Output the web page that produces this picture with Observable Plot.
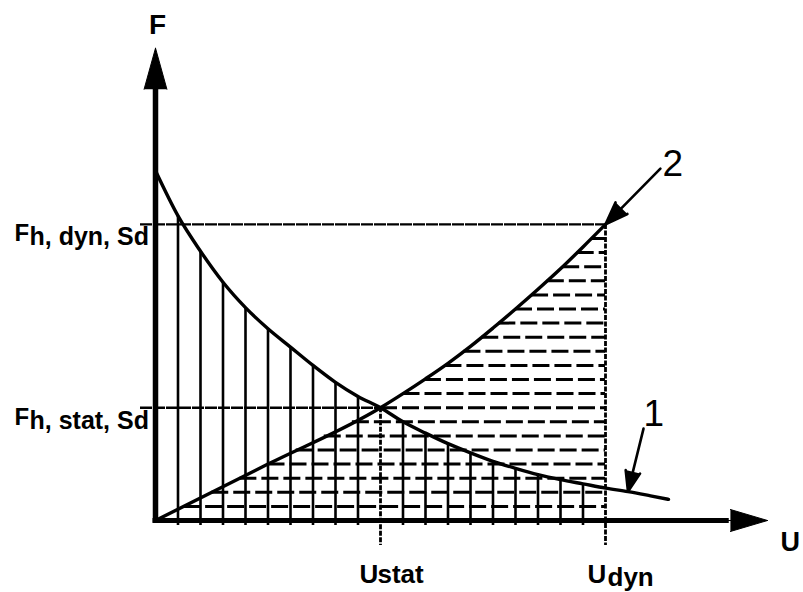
<!DOCTYPE html>
<html>
<head>
<meta charset="utf-8">
<script src="https://cdn.jsdelivr.net/npm/d3@7"></script>
<script src="https://cdn.jsdelivr.net/npm/@observablehq/plot@0.6"></script>
<style>
  html, body { margin: 0; padding: 0; background: #ffffff; }
  #chart svg { display: block; }
</style>
</head>
<body>
<div id="chart"></div>
<script>
// Displacement U and force F, both counted in hatch steps
const U_STAT = 10;
const U_DYN = 20;
const F_STAT = 8;
const F_DYN = 21;

// Curve 1: falling characteristic
const curve1U = [0, 1, 2, 3, 4, 5, 6, 7, 8, 9, 10, 11, 12, 13, 14, 15, 16, 17, 18, 19, 20, 21, 22, 22.8];
const curve1F = [24.8, 21.6, 19.1, 16.9, 15.1, 13.6, 12.3, 11.0, 9.8, 8.8, 8.0, 7.0, 6.2, 5.45, 4.8, 4.2, 3.7, 3.25, 2.9, 2.6, 2.3, 2.05, 1.75, 1.5];

// Curve 2: rising characteristic, straight up to the crossing point
const curve2U = [0, 5, 10, 11, 12, 13, 14, 15, 16, 17, 18, 19, 20];
const curve2F = [0, 4, 8, 9.0, 10.05, 11.15, 12.35, 13.65, 15.0, 16.4, 17.85, 19.4, 21.0];

// Hatch positions
const hatchU = [1, 2, 3, 4, 5, 6, 7, 8, 9, 11, 12, 13, 14, 15, 16, 17, 18, 19];
const hatchF = [1, 2, 3, 4, 5, 6, 7, 8, 9, 10, 11, 12, 13, 14, 15, 16, 17, 18, 19, 20];

// Axis extents (head base and tip)
const AXIS_F_BASE = 30.6, AXIS_F_TIP = 33.5;
const AXIS_U_BASE = 25.5, AXIS_U_TIP = 27.2;

// Labels
const forceLevels = [F_DYN, F_STAT];
const forceNames = ["h, dyn, Sd", "h, stat, Sd"];
const callouts = [
  {label: "2", u: 22.44, f: 24.96, tipU: U_DYN, tipF: F_DYN},
  {label: "1", u: 21.69, f: 6.52, tipU: curve1U[21], tipF: curve1F[21]}
];

const curve1 = curve1U.map((u, i) => ({u, f: curve1F[i]}));
const curve2 = curve2U.map((u, i) => ({u, f: curve2F[i]}));

// displacement at which a rising curve reaches force f
function uAtF(us, fs, f) {
  for (let i = 1; i < fs.length; i++) {
    if (f <= fs[i]) {
      const t = (f - fs[i - 1]) / (fs[i] - fs[i - 1]);
      return us[i - 1] + t * (us[i] - us[i - 1]);
    }
  }
  return us[us.length - 1];
}

const rows = hatchF.map(f => ({f, u0: uAtF(curve2U, curve2F, f)}));
const cols = hatchU.map(u => ({u, f: curve1F[curve1U.indexOf(u)]}));

const FONT = "'Liberation Sans', Arial, Helvetica, sans-serif";

const chart = Plot.plot({
  width: 803,
  height: 592,
  margin: 0,
  x: {domain: [0, 28], range: [155, 785], axis: null},
  y: {domain: [0, 36], range: [520, 12.4], axis: null},
  style: {background: "#ffffff", color: "#000000", fontFamily: FONT},
  marks: [
    // horizontal dashed hatch between curve 2 and U_dyn
    Plot.ruleY(rows, {
      y: "f", x1: "u0", x2: () => U_DYN,
      stroke: "#000", strokeWidth: 3, strokeDasharray: "17,5"
    }),
    // vertical hatch below curve 1
    Plot.ruleX(cols, {
      x: "u", y1: "f", y2: () => 0, insetBottom: -5,
      stroke: "#000", strokeWidth: 2.6
    }),
    // guide lines to the force labels
    Plot.ruleY([F_DYN], {
      y: d => d, x1: () => 0, x2: () => U_DYN, insetLeft: -15,
      stroke: "#000", strokeWidth: 2.4, strokeDasharray: "12,1"
    }),
    Plot.ruleY([F_STAT], {
      y: d => d, x1: () => 0, x2: () => U_STAT, insetLeft: -15,
      stroke: "#000", strokeWidth: 2.4, strokeDasharray: "12,1"
    }),
    // guide lines to the displacement labels
    Plot.ruleX([{u: U_STAT, f: F_STAT}, {u: U_DYN, f: F_DYN}], {
      x: "u", y1: "f", y2: () => 0, insetBottom: -25,
      stroke: "#000", strokeWidth: 2.8, strokeDasharray: "5,1.5"
    }),
    // characteristic curves
    Plot.line(curve1, {x: "u", y: "f", stroke: "#000", strokeWidth: 3.4, curve: "monotone-x"}),
    Plot.line(curve2, {x: "u", y: "f", stroke: "#000", strokeWidth: 3.4, curve: "monotone-x"}),
    // axes
    Plot.ruleX([0], {x: d => d, y1: () => AXIS_F_BASE, y2: () => 0, insetBottom: -2.5, stroke: "#000", strokeWidth: 5.5}),
    Plot.ruleY([0], {y: d => d, x1: () => 0, x2: () => AXIS_U_BASE, insetLeft: -2.5, stroke: "#000", strokeWidth: 5}),
    Plot.arrow([0], {
      x1: () => 0, y1: () => 0, x2: () => 0, y2: () => AXIS_F_TIP,
      stroke: "#000", fill: "#000", strokeWidth: 1, headAngle: 31, headLength: 64
    }),
    Plot.arrow([0], {
      x1: () => 0, y1: () => 0, x2: () => AXIS_U_TIP, y2: () => 0,
      stroke: "#000", fill: "#000", strokeWidth: 1, headAngle: 33, headLength: 58
    }),
    // callout arrows
    Plot.arrow(callouts, {
      x1: "u", y1: "f", x2: "tipU", y2: "tipF",
      stroke: "#000", fill: "#000", strokeWidth: 2.6, headAngle: 40, headLength: 14
    }),
    Plot.text([callouts[0]], {
      x: "u", y: "f", text: "label", textAnchor: "start", lineAnchor: "bottom",
      dx: 2, dy: 7, fontSize: 37, fill: "#000"
    }),
    Plot.text([callouts[1]], {
      x: "u", y: "f", text: "label", textAnchor: "start", lineAnchor: "bottom",
      dx: 0, dy: -3, fontSize: 37, fill: "#000"
    }),
    // axis titles
    Plot.text(["F"], {
      x: () => 0, y: () => AXIS_F_TIP, text: d => d, textAnchor: "middle", lineAnchor: "bottom",
      dx: 2, dy: -14, fontSize: 28, fontWeight: "bold", fill: "#000"
    }),
    Plot.text(["U"], {
      x: () => AXIS_U_TIP, y: () => 0, text: d => d, textAnchor: "start", lineAnchor: "bottom",
      dx: 13, dy: 30, fontSize: 27, fontWeight: "bold", fill: "#000"
    }),
    // force labels
    Plot.text(forceLevels, {
      x: () => 0, y: d => d, text: () => "F", textAnchor: "start", lineAnchor: "bottom",
      dx: -141, dy: 17, fontSize: 24, fontWeight: "bold", fill: "#000"
    }),
    Plot.text(forceLevels, {
      x: () => 0, y: d => d, text: (d, i) => forceNames[i], textAnchor: "start", lineAnchor: "bottom",
      dx: -126, dy: 21, fontSize: 25, fontWeight: "bold", fill: "#000"
    }),
    // displacement labels
    Plot.text([U_STAT], {
      x: d => d, y: () => 0, text: () => "U", textAnchor: "start", lineAnchor: "bottom",
      dx: -21, dy: 62, fontSize: 26, fontWeight: "bold", fill: "#000"
    }),
    Plot.text([U_STAT], {
      x: d => d, y: () => 0, text: () => "stat", textAnchor: "start", lineAnchor: "bottom",
      dx: -3, dy: 62, fontSize: 26, fontWeight: "bold", fill: "#000"
    }),
    Plot.text([U_DYN], {
      x: d => d, y: () => 0, text: () => "U", textAnchor: "start", lineAnchor: "bottom",
      dx: -18, dy: 62, fontSize: 26, fontWeight: "bold", fill: "#000"
    }),
    Plot.text([U_DYN], {
      x: d => d, y: () => 0, text: () => "dyn", textAnchor: "start", lineAnchor: "bottom",
      dx: 2, dy: 65, fontSize: 26, fontWeight: "bold", fill: "#000"
    })
  ]
});

document.getElementById("chart").appendChild(chart);
</script>
</body>
</html>
